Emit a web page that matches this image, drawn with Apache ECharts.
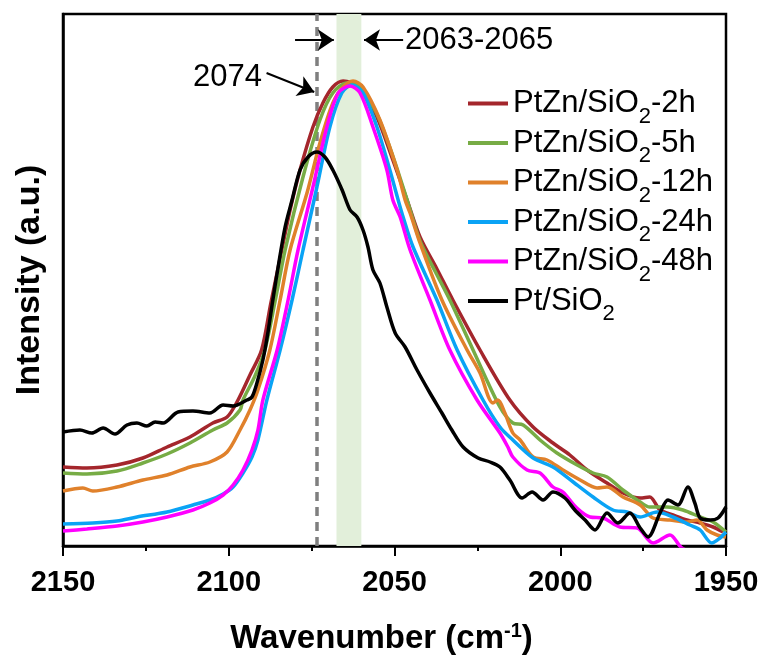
<!DOCTYPE html>
<html><head><meta charset="utf-8">
<script src="https://cdn.jsdelivr.net/npm/echarts@6/dist/echarts.min.js"></script>
<style>html,body{margin:0;padding:0;background:#fff}#c{width:769px;height:666px}</style>
</head><body><div id="c"></div>
<script>
// ---- data ----
const seriesNames = ['PtZn/SiO2-2h','PtZn/SiO2-5h','PtZn/SiO2-12h','PtZn/SiO2-24h','PtZn/SiO2-48h','Pt/SiO2'];
const xTicks = [2150, 2100, 2050, 2000, 1950];

const wn2h = [2150,2142.8,2133.7,2125.9,2118.6,2111.7,2104.8,2100.5,2097.2,2093.6,2090.1,2087.3,2084.0,2081.5,2078.5,2074.6,2071.6,2068.6,2065.5,2062.8,2060.4,2055.3,2050.5,2046.2,2042.3,2037.2,2032.4,2024.2,2015.2,2008.2,2002.2,1997.1,1991.9,1985.9,1981.1,1975.9,1973.0,1969.9,1966.0,1961.8,1957.8,1953.9,1950.9];
const int2h = [0.79,0.78,0.81,0.88,0.99,1.09,1.23,1.29,1.46,1.71,1.96,2.43,2.96,3.36,3.76,4.19,4.43,4.59,4.65,4.63,4.59,4.29,3.86,3.46,3.09,2.77,2.46,1.96,1.46,1.19,1.03,0.91,0.76,0.63,0.53,0.48,0.49,0.36,0.31,0.26,0.23,0.19,0.14];

const wn5h = [2150,2142.8,2133.7,2125.9,2118.6,2111.7,2104.8,2100.5,2096.6,2095.7,2092.1,2089.1,2086.0,2083.0,2077.6,2072.5,2068.6,2064.3,2061.9,2059.8,2055.3,2050.5,2046.2,2042.3,2037.8,2033.3,2026.3,2018.2,2014.3,2011.2,2006.1,2001.0,1994.9,1990.1,1985.9,1981.1,1975.9,1973.0,1967.8,1963.0,1957.8,1953.9,1950];
const int5h = [0.73,0.72,0.75,0.83,0.92,1.03,1.16,1.23,1.36,1.46,1.70,1.96,2.45,2.96,3.69,4.26,4.53,4.63,4.62,4.57,4.32,3.90,3.46,3.05,2.75,2.46,1.96,1.39,1.23,1.21,1.06,0.93,0.81,0.73,0.69,0.56,0.44,0.39,0.39,0.36,0.29,0.24,0.14];

const wn12h = [2150,2144.0,2141.0,2133.7,2125.9,2118.6,2111.7,2105.7,2100.5,2096.6,2093.6,2091.2,2087.6,2084.5,2081.5,2076.4,2072.5,2068.6,2065.5,2062.5,2059.5,2054.4,2049.2,2046.8,2045.3,2042.3,2035.7,2028.1,2024.2,2020.3,2018.8,2016.7,2014.3,2012.1,2008.2,2004.0,1999.2,1994.0,1988.9,1985.9,1981.1,1975.9,1972.0,1966.9,1961.8,1958.7,1955.7,1952.7,1950];
const int12h = [0.55,0.58,0.55,0.59,0.66,0.71,0.79,0.84,0.94,1.16,1.36,1.56,1.96,2.46,2.96,3.53,4.03,4.43,4.59,4.65,4.59,4.26,3.76,3.46,3.33,3.03,2.46,1.96,1.73,1.43,1.46,1.33,1.13,1.06,0.89,0.86,0.76,0.66,0.58,0.59,0.49,0.41,0.28,0.26,0.24,0.26,0.16,0.11,0.09];

const wn24h = [2150,2141.0,2133.7,2127.7,2118.6,2110.8,2105.7,2101.7,2098.7,2095.7,2093.0,2091.2,2088.5,2084.5,2080.9,2077.6,2073.4,2069.5,2065.9,2062.8,2059.5,2055.3,2051.4,2048.9,2047.4,2044.4,2037.2,2031.1,2023.3,2018.2,2014.3,2008.2,2002.2,1996.1,1990.1,1984.1,1979.9,1975.9,1970.8,1966.0,1960.9,1957.8,1954.3,1951.8,1950];
const int24h = [0.22,0.23,0.25,0.29,0.34,0.41,0.46,0.52,0.59,0.73,0.89,1.06,1.46,1.96,2.46,2.96,3.59,4.19,4.53,4.61,4.53,4.19,3.76,3.46,3.29,2.99,2.46,1.96,1.46,1.19,1.06,0.88,0.79,0.64,0.49,0.36,0.34,0.29,0.34,0.29,0.21,0.16,0.03,0.08,0.14];

const wn48h = [2150,2142.8,2133.7,2125.9,2118.6,2110.8,2105.7,2101.7,2098.7,2095.7,2093.0,2091.2,2089.7,2085.4,2082.1,2079.1,2074.6,2070.4,2067.0,2063.4,2060.4,2056.5,2052.3,2050.5,2048.3,2045.3,2039.3,2033.3,2025.1,2018.2,2015.8,2014.3,2010.0,2006.1,2002.2,1999.2,1995.0,1991.0,1987.1,1982.0,1976.8,1972.0,1966.9,1963.3,1957.8,1950];
const int48h = [0.15,0.17,0.20,0.24,0.29,0.36,0.43,0.51,0.61,0.76,0.96,1.16,1.46,1.96,2.46,2.96,3.59,4.19,4.53,4.60,4.53,4.19,3.76,3.46,3.29,2.96,2.46,1.96,1.46,1.13,0.99,0.89,0.76,0.73,0.59,0.54,0.38,0.29,0.28,0.19,0.18,0.03,0.11,-0.02,-0.08,-0.10];

const wnPt = [2150,2144.9,2141.3,2137.9,2134.3,2130.7,2127.7,2124.7,2122.2,2119.8,2115.3,2110.8,2105.7,2101.7,2098.7,2094.5,2093.0,2091.5,2089.7,2088.2,2086.7,2085.1,2083.0,2080.9,2078.5,2076.1,2073.4,2071.0,2068.6,2065.8,2063.4,2061.3,2059.5,2058.0,2056.5,2054.4,2052.3,2049.8,2046.8,2043.2,2039.3,2035.7,2032.7,2029.3,2024.8,2021.2,2018.2,2015.2,2011.5,2008.5,2005.2,2002.2,1998.6,1995.6,1992.5,1989.5,1985.9,1982.6,1979.0,1975.9,1973.5,1969.9,1967.5,1964.5,1961.5,1959.4,1957.8,1954.8,1952.4,1950];
const intPt = [1.14,1.16,1.13,1.18,1.12,1.21,1.23,1.20,1.24,1.23,1.34,1.35,1.33,1.41,1.40,1.46,1.49,1.63,1.86,2.13,2.46,2.79,3.19,3.46,3.76,3.89,3.94,3.89,3.76,3.56,3.36,3.29,3.16,2.99,2.76,2.63,2.39,2.13,1.99,1.76,1.53,1.33,1.16,0.99,0.88,0.84,0.79,0.66,0.48,0.54,0.46,0.54,0.48,0.36,0.26,0.16,0.33,0.23,0.33,0.18,0.09,0.33,0.46,0.41,0.59,0.43,0.28,0.26,0.28,0.39];

const refLine = 2073.5;            // dashed line (2074)
const bandRange = [2067.5, 2060];  // shaded band (2063-2065)

// ---- chart ----
const FONT = '"Liberation Sans", Arial, sans-serif';
const colors = ['#A4262C','#77AC45','#E0812B','#0AA3F5','#FF00FF','#000000'];
const wnSets = [wn2h, wn5h, wn12h, wn24h, wn48h, wnPt];
const intSets = [int2h, int5h, int12h, int24h, int48h, intPt];
const zip = (a, b) => a.map((v, i) => [v, b[i]]);

const series = seriesNames.map((n, i) => ({
  name: n, type: 'line', data: zip(wnSets[i], intSets[i]),
  symbol: 'none', smooth: 0.3, clip: true, silent: true,
  lineStyle: { width: 3.5, color: colors[i] }, itemStyle: { color: colors[i] },
  z: 3 + i
}));
series[0].markArea = {
  silent: true, z: 1,
  itemStyle: { color: '#E2EFDA', opacity: 1 },
  data: [[{ xAxis: bandRange[0] }, { xAxis: bandRange[1] }]]
};
series[0].markLine = {
  silent: true, symbol: ['none', 'none'], z: 2,
  label: { show: false },
  lineStyle: { type: [9, 6], color: '#7F7F7F', width: 3.5 },
  data: [{ xAxis: refLine }]
};
series[5].markLine = {
  silent: true, symbol: ['none', 'arrow'], symbolSize: 16,
  label: { show: false },
  lineStyle: { type: 'solid', color: '#000', width: 2 },
  data: [
    [{ coord: [2080.0, 5.06] }, { coord: [2068.3, 5.06] }],
    [{ coord: [2047.4, 5.06] }, { coord: [2059.2, 5.06] }],
    [{ coord: [2088.6, 4.73] }, { coord: [2074.2, 4.54] }]
  ]
};

const chart = echarts.init(document.getElementById('c'), null, { renderer: 'canvas' });
chart.setOption({
  animation: false,
  backgroundColor: '#fff',
  grid: { left: 63, right: 43, top: 14, bottom: 120, show: true, borderColor: '#000', borderWidth: 2.5, backgroundColor: 'transparent' },
  xAxis: {
    type: 'value', inverse: true, min: 1950, max: 2150, interval: 50,
    name: 'Wavenumber (cm{sup|-1})', nameLocation: 'middle', nameGap: 76,
    nameTextStyle: { fontSize: 33, fontWeight: 'bold', fontFamily: FONT, color: '#000', lineHeight: 34,
      padding: [0, 26, 0, 0],
      rich: { sup: { fontSize: 20, fontWeight: 'bold', fontFamily: FONT, color: '#000', verticalAlign: 'top', height: 18 } } },
    axisLine: { show: true, lineStyle: { color: '#000', width: 2.5 } },
    axisTick: { show: true, length: 10, inside: false, lineStyle: { color: '#000', width: 2 } },
    minorTick: { show: true, splitNumber: 2, length: 5, lineStyle: { color: '#000', width: 2 } },
    axisLabel: { fontSize: 29, fontWeight: 'bold', fontFamily: FONT, color: '#000', margin: 22,
      formatter: v => (xTicks.indexOf(v) >= 0 ? String(v) : '') },
    splitLine: { show: false }
  },
  yAxis: {
    type: 'value', min: 0, max: 5.32,
    name: 'Intensity (a.u.)', nameLocation: 'middle', nameGap: 16,
    nameTextStyle: { fontSize: 34, fontWeight: 'bold', fontFamily: FONT, color: '#000' },
    axisLine: { show: true, lineStyle: { color: '#000', width: 2.5 } },
    axisTick: { show: false }, axisLabel: { show: false }, splitLine: { show: false }
  },
  legend: {
    orient: 'vertical', left: 463, top: 83, itemWidth: 40, itemHeight: 4, itemGap: 0,
    icon: 'rect',
    data: seriesNames,
    formatter: n => n.replace('SiO2', 'SiO{sub|2}'),
    textStyle: { fontSize: 31, fontFamily: FONT, color: '#000', lineHeight: 30,
      rich: { sub: { fontSize: 22, fontFamily: FONT, color: '#000', verticalAlign: 'bottom', height: 4 } } }
  },
  graphic: [
    { type: 'text', x: 405, y: 40, silent: true,
      style: { text: '2063-2065', fontSize: 31, fontFamily: FONT, fill: '#000', align: 'left', verticalAlign: 'middle' } },
    { type: 'text', x: 262, y: 77, silent: true,
      style: { text: '2074', fontSize: 31, fontFamily: FONT, fill: '#000', align: 'right', verticalAlign: 'middle' } }
  ],
  series: series
});
</script>
</body></html>
